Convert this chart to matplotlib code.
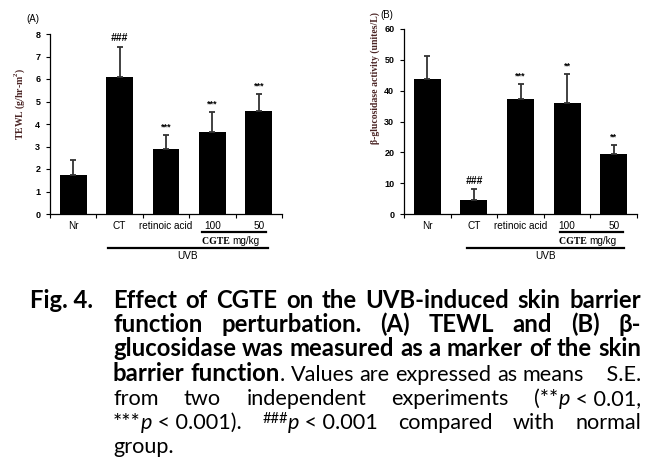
import matplotlib
matplotlib.use("Agg")
import matplotlib.pyplot as plt
from matplotlib.transforms import blended_transform_factory

W, H = 659, 476

# data
groups = ["Nr", "CT", "retinoic acid", "100", "50"]
tewl_mean = [1.75, 6.1, 2.87, 3.65, 4.6]
tewl_err = [0.65, 1.33, 0.65, 0.9, 0.72]
tewl_sig = ["", "###", "***", "***", "***"]
gluc_mean = [43.9, 4.5, 37.4, 36.0, 19.6]
gluc_err = [7.2, 3.5, 4.7, 9.5, 2.8]
gluc_sig = ["", "###", "***", "**", "**"]

SANS = ["Liberation Sans", "DejaVu Sans"]
SERIF = ["Liberation Serif", "DejaVu Serif"]

fig = plt.figure(figsize=(W / 100, H / 100), dpi=100)


def px(x, y):
    return x / W, 1 - y / H


def panel(rect, mean, err, sig, ylim, yticks, ylabel, ylab_xy, tag, tag_xy,
          cgte_span, uvb_span, text_y):
    l, t, r, b = rect
    ax = fig.add_axes([l / W, 1 - b / H, (r - l) / W, (b - t) / H])
    x = range(len(groups))
    ax.bar(x, mean, width=0.58, color="black", zorder=2)
    ax.errorbar(x, mean, yerr=[[0] * len(err), err], fmt="none",
                ecolor="#333333", elinewidth=1.3, capsize=2.2, capthick=1.3,
                zorder=3)
    for xi, m, e, s in zip(x, mean, err, sig):
        if s:
            st = "italic" if s.startswith("#") else "normal"
            fs = 7.5 if s.startswith("#") else 6.5
            ax.annotate(s, (xi, m + e), xytext=(0, 2.5), textcoords="offset points",
                        ha="center", va="bottom", fontsize=fs, fontweight="bold",
                        style=st, family=SANS)
    ax.set_xlim(-0.5, len(groups) - 0.5)
    ax.set_ylim(*ylim)
    ax.set_yticks(yticks)
    ax.set_yticklabels([str(v) for v in yticks], fontsize=6.5,
                       fontweight="bold", family=SANS)
    ax.set_xticks(list(x))
    ax.set_xticklabels(groups, fontsize=7.2, family=SANS)
    ax.set_xticks([i - 0.5 for i in range(len(groups) + 1)], minor=True)
    ax.tick_params(axis="x", which="major", length=0, pad=5)
    ax.tick_params(axis="x", which="minor", length=3, width=0.8, direction="out")
    ax.tick_params(axis="y", length=3, width=0.8, direction="out", pad=4)
    for sp in ("top", "right"):
        ax.spines[sp].set_visible(False)
    for sp in ("left", "bottom"):
        ax.spines[sp].set_linewidth(0.9)

    tr = blended_transform_factory(ax.transData, fig.transFigure)
    cy = 1 - 232 / H
    uy = 1 - 248 / H
    ax.plot(cgte_span, [cy, cy], color="black", lw=1.6, transform=tr, clip_on=False)
    ax.plot(uvb_span, [uy, uy], color="black", lw=1.6, transform=tr, clip_on=False)
    cx = (cgte_span[0] + cgte_span[1]) / 2
    ax.text(cx - 0.05, 1 - 241 / H, "CGTE ", transform=tr, ha="right", va="center",
            fontsize=7, fontweight="bold", family=SERIF)
    ax.text(cx - 0.05, 1 - 241 / H, "mg/kg", transform=tr, ha="left", va="center",
            fontsize=7.2, family=SANS)
    ux = (uvb_span[0] + uvb_span[1]) / 2
    ax.text(ux, 1 - text_y / H, "UVB", transform=tr, ha="center", va="center",
            fontsize=7.2, family=SANS)

    fig.text(*px(*ylab_xy), ylabel, rotation=90, ha="center", va="center",
             fontsize=7, fontweight="bold", family=SERIF, color="#4a2424")
    fig.text(*px(*tag_xy), tag, ha="center", va="center", fontsize=7, family=SANS)
    return ax


panel((50, 34, 282, 214), tewl_mean, tewl_err, tewl_sig, (0, 8), list(range(0, 9)),
      "TEWL (g/hr-m$^\\mathregular{2}$)", (20, 104), "(A)", (33, 19),
      (2.78, 4.16), (0.75, 4.2), 256)
panel((404, 29, 637, 214), gluc_mean, gluc_err, gluc_sig, (0, 60), list(range(0, 70, 10)),
      "\u03b2-glucosidase activity (unites/L)", (375, 78), "(B)", (387, 15),
      (2.85, 4.2), (0.85, 4.23), 256)

# caption, laid out word by word and justified
CAP_FONT = ["Lato", "Liberation Sans", "DejaVu Sans"]
col_left, col_right = 113, 641
base0, lead = 308, 24.2

caption = [
    ([[("function", "b")], [("perturbation.", "b")], [("(A)", "b")], [("TEWL", "b")],
      [("and", "b")], [("(B)", "b")], [("\u03b2-", "b")]], True),
    ([[(w, "b")] for w in "glucosidase was measured as a marker of the skin".split()], True),
    ([[("barrier", "b")], [("function", "b"), (".", "n")]]
     + [[(w, "n")] for w in "Values are expressed as means".split()]
     + [[("   S.E.", "n")]], True),
    ([[(w, "n")] for w in "from two independent experiments".split()]
     + [[("(**", "n"), ("p", "i"), (" < 0.01,", "n")]], True),
    ([[("***", "n"), ("p", "i"), (" < 0.001).", "n")], [("###", "s"), ("p", "i"), (" < 0.001", "n")]]
     + [[(w, "n")] for w in "compared with normal".split()], True),
    ([[("group.", "n")]], False),
]
first = [[(w, "b")] for w in "Effect of CGTE on the UVB-induced skin barrier".split()]

renderer = fig.canvas.get_renderer()
BOLD_SIZE = 10.0
NORM_SIZE = 10.0


def seg_kw(style):
    kw = dict(fontsize=NORM_SIZE, family=CAP_FONT)
    if style == "b":
        kw["fontweight"] = "bold"
        kw["fontsize"] = BOLD_SIZE
    if style == "i":
        kw["style"] = "italic"
    if style == "s":
        kw["fontsize"] = NORM_SIZE * 0.68
    return kw


def seg_width(s, style):
    t = fig.text(0, 0, s, **seg_kw(style))
    w = t.get_window_extent(renderer).width
    t.remove()
    return w


# lines 3, 4 and 6 are set with plain spacing: size the fonts to fill them
span = col_right - col_left - 2
BOLD_SIZE = 10.0 * span / seg_width("glucosidase was measured as a marker of the skin", "b")
nat6 = sum(seg_width(s, st) for s, st in
           [("***", "n"), ("p", "i"), (" < 0.001). ", "n"), ("###", "s"), ("p", "i"),
            (" < 0.001 compared with normal", "n")])
bold4 = seg_width("barrier function", "b")
nat4 = seg_width(". Values are expressed as means    S.E.", "n")
NORM_SIZE = 10.0 * min(span / nat6, (span - bold4) / nat4)


def draw_line(words, y, justify):
    widths = [[seg_width(s, st) for s, st in wd] for wd in words]
    total = sum(sum(w) for w in widths)
    space = seg_width("a a", "n") - seg_width("aa", "n")
    if justify and len(words) > 1:
        gap = (col_right - col_left - total) / (len(words) - 1)
    else:
        gap = space
    x = col_left
    for wd, ws in zip(words, widths):
        for (s, st), w in zip(wd, ws):
            dy = 6 if st == "s" else 0
            fig.text(x / W, 1 - (y - dy) / H, s, ha="left", va="baseline", **seg_kw(st))
            x += w
        x += gap


fig.text(30 / W, 1 - base0 / H, "Fig. 4.", ha="left", va="baseline",
         fontweight="bold", fontsize=BOLD_SIZE, family=CAP_FONT)
draw_line(first, base0, True)
for i, (words, just) in enumerate(caption, start=1):
    draw_line(words, base0 + i * lead, just)

fig.savefig("out.png", dpi=100)
